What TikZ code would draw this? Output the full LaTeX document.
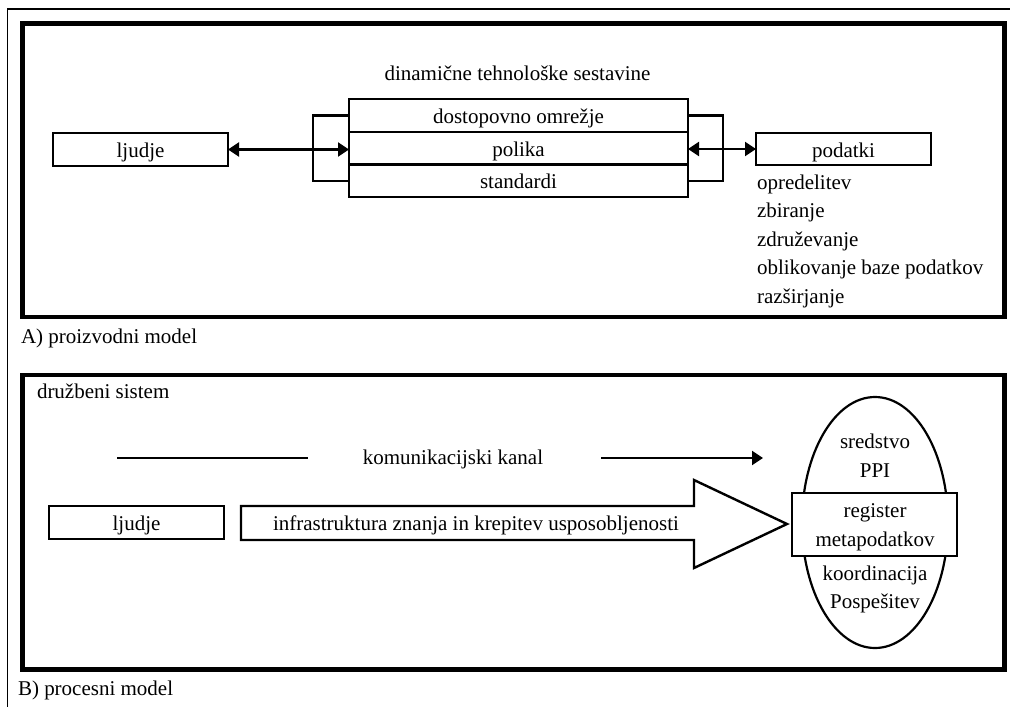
\documentclass[tikz,border=0pt]{standalone}
\usepackage{fontspec}
\setmainfont{Liberation Serif}
\usetikzlibrary{arrows.meta,shapes.geometric}
\begin{document}
\begin{tikzpicture}[x=1pt,y=-1pt,
  font=\fontsize{21}{28}\selectfont,
  every node/.style={inner sep=0pt,outer sep=0pt},
  panel/.style={line width=4.5pt},
  rim/.style={line width=1.6pt},
  cell/.style={draw,line width=2.4pt,minimum width=#1,minimum height=33pt,
               text height=18pt,text depth=2pt},
  word/.style={anchor=base},
  wordl/.style={anchor=base west},
  wire/.style={line width=2.2pt},
  tipped/.style={-{Triangle[length=11pt,width=14pt]}},
  twotip/.style={{Triangle[length=11pt,width=14pt]}-{Triangle[length=11pt,width=14pt]}}
]
\useasboundingbox (0,0) rectangle (1010,707);

% page frame and the two panels
\draw[rim] (7.5,707) -- (7.5,9) -- (1010,9);
\draw[panel] (22.5,23.5) rectangle (1004.5,317);
\draw[panel] (22.5,375) rectangle (1004.5,669.5);

% ---------- A) production model ----------
\node[wordl] (capA) at (21,343) {A) proizvodni model};
\node[word] (dyn) at (517.5,80) {dinamične tehnološke sestavine};

\node[cell=175] (peopleA) at (140.5,149.5) {ljudje};
\node[cell=339] (net) at (518.5,115.5) {dostopovno omrežje};
\node[cell=339,minimum height=32.5pt] (policy) at (518.5,148.25) {polika};
\node[cell=339,minimum height=32.5pt] (std) at (518.5,180.75) {standardi};
\node[cell=175,minimum height=32pt] (data) at (843.5,149) {podatki};

\draw[wire] (net.west) -- ++(-36,0) |- (std.west);
\draw[wire] (net.east) -- ++(35,0) |- (std.east);
\draw[wire,twotip] (peopleA.east) -- (peopleA.east -| policy.west);
\draw[wire,twotip] (policy.east |- data.west) -- (data.west);

\node[wordl] (d1) at (757,189) {opredelitev};
\node[wordl] (d2) at (757,217.5) {zbiranje};
\node[wordl] (d3) at (757,246) {združevanje};
\node[wordl] (d4) at (757,274.5) {oblikovanje baze podatkov};
\node[wordl] (d5) at (757,303) {razširjanje};

% ---------- B) process model ----------
\node[wordl] (capB) at (18,695) {B) procesni model};
\node[wordl] (society) at (37,398) {družbeni sistem};

\node[word] (channel) at (453,464) {komunikacijski kanal};
\coordinate (c0) at (117,458);
\coordinate (c1) at (308,458);
\coordinate (c2) at (601,458);
\coordinate (c3) at (763,458);
\draw[wire] (c0) -- (c1);
\draw[wire,tipped] (c2) -- (c3);

\node[cell=175] (peopleB) at (136.5,522.5) {ljudje};

\draw[line width=2.4pt] (241,506) -- (694,506) -- (694,480) -- (787,524)
  -- (694,568) -- (694,540) -- (241,540) -- cycle;
\node[word] (infra) at (476,530) {infrastruktura znanja in krepitev usposobljenosti};

\node[draw,ellipse,line width=2.2pt,minimum width=146pt,minimum height=251pt] (pool) at (875,522.5) {};
\node[draw,fill=white,line width=2.4pt,minimum width=165pt,minimum height=63pt] (registry) at (874.5,524.5) {};
\node[word] (e1) at (875,448) {sredstvo};
\node[word] (e2) at (875,477) {PPI};
\node[word] (e3) at (875,517) {register};
\node[word] (e4) at (875,546) {metapodatkov};
\node[word] (e5) at (875,580) {koordinacija};
\node[word] (e6) at (875,608) {Pospešitev};
\end{tikzpicture}
\end{document}
